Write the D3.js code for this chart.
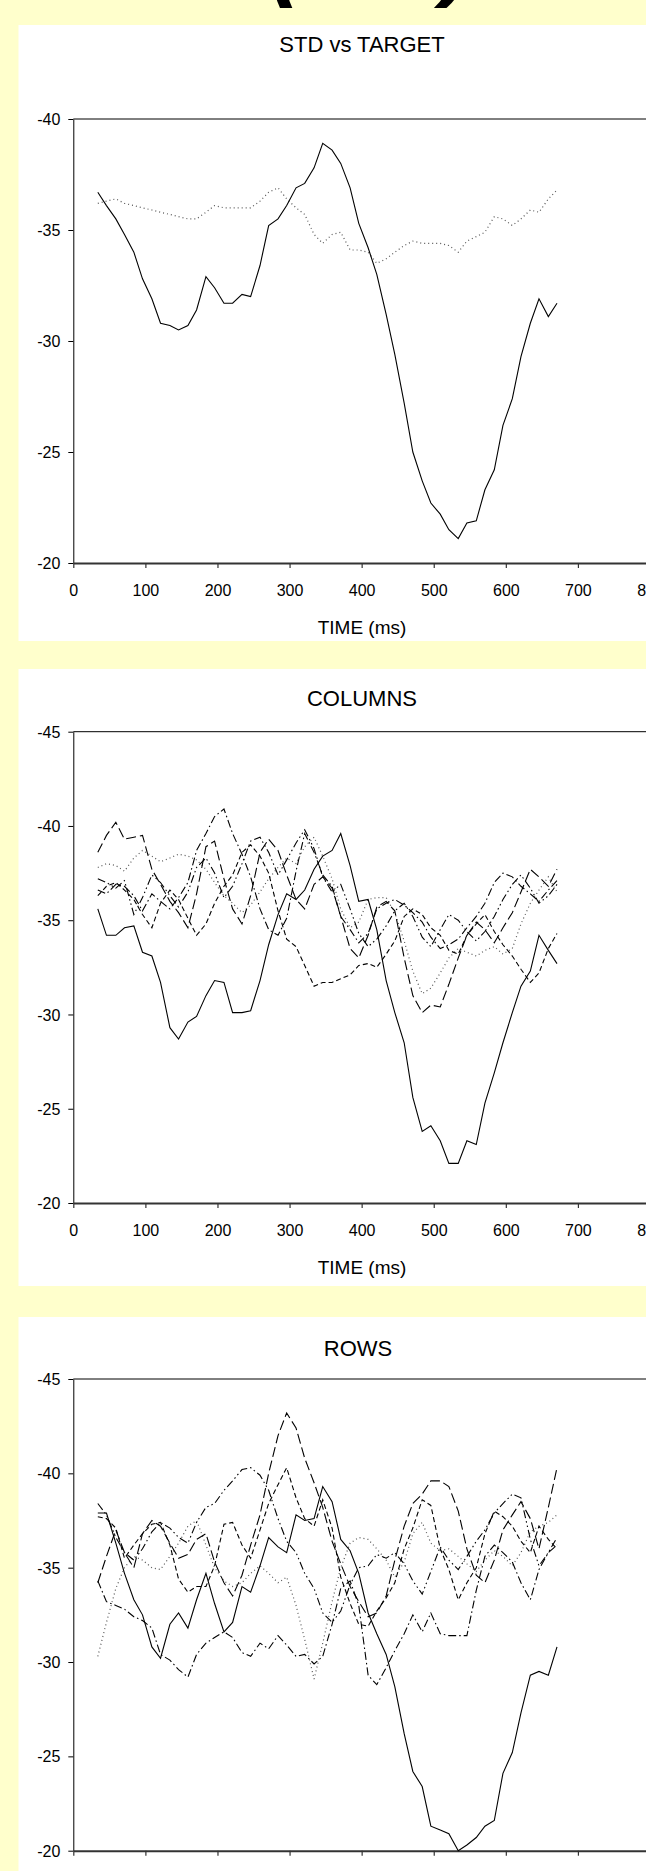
<!DOCTYPE html>
<html>
<head>
<meta charset="utf-8">
<script src="https://cdn.jsdelivr.net/npm/d3@7"></script>
<style>
html,body{margin:0;padding:0;background:#ffffcc;overflow:hidden}
svg{display:block}
</style>
</head>
<body>
<script>
// sample times (ms)
let times = [34,46,59,71,84,96,109,121,134,146,159,171,184,196,209,221,234,246,259,271,284,296,309,321,334,346,359,371,384,396,409,421,434,446,459,471,484,496,509,521,534,546,559,571,584,596,609,621,634,646,659,671];

let xTicks = [0,100,200,300,400,500,600,700,800];
let yTicksStd = [-40,-35,-30,-25,-20];
let yTicksGrid = [-45,-40,-35,-30,-25,-20];

// STD vs TARGET
let stdTarget = [-36.7,-36.1,-35.5,-34.8,-34.0,-32.8,-31.9,-30.8,-30.7,-30.5,-30.7,-31.4,-32.9,-32.4,-31.7,-31.7,-32.1,-32.0,-33.4,-35.2,-35.5,-36.1,-36.9,-37.1,-37.8,-38.9,-38.6,-38.0,-36.9,-35.3,-34.2,-33.0,-31.2,-29.4,-27.2,-25.0,-23.7,-22.7,-22.2,-21.5,-21.1,-21.8,-21.9,-23.3,-24.2,-26.2,-27.4,-29.3,-30.8,-31.9,-31.1,-31.7];
let stdStandard = [-36.2,-36.3,-36.4,-36.2,-36.1,-36.0,-35.9,-35.8,-35.7,-35.6,-35.5,-35.5,-35.8,-36.1,-36.0,-36.0,-36.0,-36.0,-36.3,-36.7,-36.9,-36.4,-36.0,-35.7,-34.8,-34.4,-34.8,-34.9,-34.1,-34.1,-34.0,-33.5,-33.7,-34.0,-34.3,-34.5,-34.4,-34.4,-34.4,-34.3,-34.0,-34.5,-34.7,-34.9,-35.6,-35.5,-35.2,-35.5,-35.9,-35.8,-36.4,-36.8];

// COLUMNS
let colTarget = [-35.6,-34.2,-34.2,-34.6,-34.7,-33.3,-33.1,-31.7,-29.3,-28.7,-29.6,-29.9,-31.0,-31.8,-31.7,-30.1,-30.1,-30.2,-31.8,-33.7,-35.3,-36.4,-36.1,-36.6,-37.7,-38.4,-38.7,-39.6,-37.9,-36.0,-36.1,-34.5,-31.8,-30.1,-28.5,-25.6,-23.8,-24.1,-23.3,-22.1,-22.1,-23.3,-23.1,-25.3,-26.9,-28.5,-30.1,-31.5,-32.3,-34.2,-33.4,-32.7];
let colDot = [-37.8,-38.0,-37.9,-37.6,-38.3,-38.7,-38.4,-38.1,-38.3,-38.5,-38.4,-38.2,-37.7,-37.0,-36.3,-35.9,-35.4,-35.8,-36.5,-37.2,-37.8,-38.3,-38.0,-38.9,-39.4,-38.4,-37.2,-35.6,-34.6,-34.9,-36.1,-36.2,-36.2,-35.4,-33.9,-32.3,-31.1,-31.4,-32.2,-33.0,-33.5,-33.3,-33.1,-33.4,-33.6,-33.2,-33.5,-34.8,-35.9,-36.6,-37.3,-36.5];
let colDashDot = [-36.6,-36.4,-36.9,-36.8,-36.3,-35.5,-36.4,-36.0,-35.6,-36.2,-37.0,-38.7,-39.6,-40.5,-40.9,-39.6,-38.5,-37.3,-35.6,-34.5,-34.2,-35.1,-37.6,-39.6,-38.6,-37.4,-36.8,-35.2,-34.5,-33.8,-34.3,-35.6,-35.9,-36.1,-35.8,-35.4,-34.9,-34.1,-33.5,-33.7,-34.0,-34.6,-35.2,-35.9,-37.0,-37.5,-37.3,-36.8,-36.4,-36.0,-36.6,-37.1];
let colLongDash = [-38.6,-39.5,-40.2,-39.3,-39.4,-39.5,-37.7,-36.9,-36.0,-35.4,-34.6,-36.4,-38.9,-39.2,-37.2,-35.6,-34.8,-36.3,-38.6,-39.3,-38.7,-37.4,-36.1,-35.6,-36.9,-37.3,-36.7,-35.2,-33.5,-33.0,-34.2,-35.7,-36.0,-35.5,-33.0,-31.0,-30.1,-30.5,-30.4,-31.6,-33.0,-34.2,-34.9,-34.5,-33.8,-34.6,-35.4,-36.5,-37.7,-37.3,-36.8,-37.7];
let colDash = [-36.3,-36.8,-37.0,-36.6,-36.1,-35.3,-34.6,-35.9,-36.6,-36.1,-35.1,-34.2,-34.8,-35.9,-36.8,-37.4,-38.6,-39.0,-38.4,-37.5,-35.5,-34.0,-33.6,-32.6,-31.5,-31.7,-31.7,-31.9,-32.1,-32.6,-32.7,-32.5,-33.2,-33.9,-35.2,-35.6,-35.3,-34.6,-34.2,-33.4,-33.2,-34.2,-34.8,-35.3,-34.4,-33.7,-33.1,-32.4,-31.7,-32.2,-33.5,-34.3];
let colDashDotDot = [-37.2,-37.0,-36.7,-37.1,-35.3,-36.2,-37.4,-37.0,-36.3,-35.7,-36.5,-37.8,-38.3,-37.5,-36.2,-36.8,-38.0,-39.2,-39.4,-38.6,-37.4,-38.2,-39.1,-39.8,-38.8,-37.3,-36.5,-36.9,-35.6,-34.3,-33.6,-34.0,-34.7,-35.5,-35.9,-35.2,-34.1,-33.6,-34.5,-35.3,-35.0,-34.4,-33.9,-34.4,-35.2,-36.1,-36.9,-37.4,-36.7,-35.9,-36.3,-36.9];

// ROWS
let rowTarget = [-37.9,-37.9,-36.3,-34.7,-33.3,-32.5,-30.8,-30.2,-32.0,-32.6,-31.8,-33.3,-34.7,-33.1,-31.6,-32.1,-34.0,-33.7,-35.1,-36.6,-36.1,-35.8,-37.8,-37.5,-37.6,-39.3,-38.5,-36.5,-35.9,-34.7,-32.6,-31.5,-30.4,-28.7,-26.2,-24.2,-23.4,-21.3,-21.1,-20.9,-20.0,-20.3,-20.7,-21.3,-21.6,-24.1,-25.2,-27.3,-29.3,-29.5,-29.3,-30.8];
let rowDot = [-30.3,-32.1,-33.9,-35.0,-35.6,-35.4,-35.0,-34.9,-35.6,-36.3,-37.2,-37.5,-36.2,-35.0,-34.3,-34.0,-34.2,-34.7,-35.1,-34.7,-34.2,-34.5,-33.0,-31.2,-29.1,-31.0,-33.2,-35.0,-36.3,-36.6,-36.5,-36.0,-35.4,-34.5,-35.3,-36.8,-37.4,-36.3,-35.9,-36.0,-35.6,-35.2,-34.8,-35.4,-35.9,-35.6,-35.1,-35.8,-36.9,-37.2,-37.4,-37.8];
let rowDashDot = [-34.3,-33.2,-33.0,-32.8,-32.4,-32.2,-31.8,-30.4,-30.1,-29.6,-29.2,-30.4,-31.0,-31.3,-31.6,-31.3,-30.5,-30.3,-31.0,-30.7,-31.4,-30.9,-30.3,-30.4,-29.9,-30.3,-32.0,-33.9,-34.3,-33.0,-29.3,-28.8,-29.7,-30.6,-31.5,-32.5,-31.6,-32.6,-31.5,-31.4,-31.4,-31.4,-33.8,-35.6,-36.2,-35.8,-35.3,-34.2,-33.3,-34.9,-35.8,-36.2];
let rowDash = [-37.7,-37.6,-37.1,-35.5,-36.2,-36.8,-37.3,-37.4,-36.2,-34.4,-33.7,-34.0,-34.0,-35.1,-37.3,-37.4,-36.2,-35.5,-37.0,-38.4,-39.4,-40.3,-38.7,-37.6,-37.2,-38.6,-37.1,-34.5,-33.1,-32.0,-31.9,-32.7,-33.4,-34.2,-36.0,-37.1,-38.6,-38.3,-36.0,-34.9,-33.3,-34.2,-35.0,-36.8,-38.0,-37.7,-37.2,-36.4,-35.8,-37.2,-36.5,-36.0];
let rowDashDotDot = [-38.4,-37.8,-36.6,-35.8,-35.4,-36.0,-36.9,-37.4,-37.1,-36.6,-36.3,-37.4,-38.2,-38.4,-39.1,-39.6,-40.2,-40.3,-39.9,-39.1,-37.6,-36.4,-35.8,-34.7,-33.9,-32.6,-32.1,-32.7,-34.1,-35.0,-35.1,-35.7,-35.5,-35.8,-35.2,-34.3,-33.6,-34.8,-36.1,-35.4,-34.9,-35.6,-36.4,-37.0,-37.9,-38.4,-38.9,-38.7,-36.5,-35.1,-35.8,-36.6];
let rowLongDash = [-34.2,-35.6,-37.0,-35.8,-35.0,-36.8,-37.5,-37.2,-36.3,-35.5,-35.7,-36.5,-36.8,-35.3,-34.2,-33.5,-34.6,-36.2,-37.8,-40.0,-42.0,-43.2,-42.4,-40.8,-39.5,-38.2,-36.4,-35.2,-34.0,-33.2,-32.4,-32.6,-33.5,-35.4,-37.2,-38.4,-38.9,-39.6,-39.6,-39.3,-38.0,-36.0,-34.6,-34.2,-35.4,-37.0,-37.8,-38.5,-37.6,-36.0,-38.2,-40.3];

let W = 646, H = 1871;
let font = "'Liberation Sans', Arial, sans-serif";

// line patterns, Excel style
let dashes = {
  solid: null,
  dot: "1,3",
  dash: "5,3",
  longDash: "10,4",
  dashDot: "8,3,1.5,3",
  dashDotDot: "8,3,1.5,3,1.5,3"
};

let panels = [
  {title:"STD vs TARGET", titleX:362, top:25, bottom:641, titleY:52, yTop:119, yBot:563, domain:[-40,-20], ticks:yTicksStd,
   series:[[stdStandard,"dot"],[stdTarget,"solid"]]},
  {title:"COLUMNS", titleX:362, top:669, bottom:1286, titleY:706, yTop:731.7, yBot:1203, domain:[-45,-20], ticks:yTicksGrid,
   series:[[colDot,"dot"],[colDashDot,"dashDot"],[colLongDash,"longDash"],[colDash,"dash"],[colDashDotDot,"dashDotDot"],[colTarget,"solid"]]},
  {title:"ROWS", titleX:358, top:1317, bottom:1900, titleY:1356, yTop:1379, yBot:1850.7, domain:[-45,-20], ticks:yTicksGrid,
   series:[[rowDot,"dot"],[rowDashDot,"dashDot"],[rowDash,"dash"],[rowDashDotDot,"dashDotDot"],[rowLongDash,"longDash"],[rowTarget,"solid"]]}
];

let svg = d3.select("body")
            .append("svg")
            .attr("width", W)
            .attr("height", H);

svg.append("rect")
   .attr("width", W).attr("height", H)
   .attr("fill", "#ffffcc");

// big heading, only its bottom edge shows
svg.append("text")
   .attr("x", 270).attr("y", -11)
   .attr("font-family", font).attr("font-weight", "bold").attr("font-style", "italic")
   .attr("font-size", 92)
   .text("(");
svg.append("text")
   .attr("x", 442).attr("y", -11)
   .attr("font-family", font).attr("font-weight", "bold").attr("font-style", "italic")
   .attr("font-size", 92)
   .text(")");

let x = d3.scaleLinear().domain([0, 800]).range([73.3, 650]);

panels.forEach(function(p){
  let g = svg.append("g");

  g.append("rect")
   .attr("x", 18.5).attr("y", p.top)
   .attr("width", W).attr("height", p.bottom - p.top)
   .attr("fill", "#ffffff");

  g.append("text")
   .attr("x", p.titleX).attr("y", p.titleY)
   .attr("text-anchor", "middle")
   .attr("font-family", font).attr("font-size", 22)
   .text(p.title);

  let y = d3.scaleLinear().domain(p.domain).range([p.yTop, p.yBot]);

  // top border of plot area
  g.append("line")
   .attr("x1", x(0)).attr("x2", W)
   .attr("y1", p.yTop).attr("y2", p.yTop)
   .attr("stroke", "#000").attr("stroke-width", 1);

  let yAxis = g.append("g")
   .attr("transform", "translate(" + x(0) + ",0)")
   .call(d3.axisLeft(y).tickValues(p.ticks).tickFormat(d => String(d)).tickSize(5).tickSizeOuter(0));
  yAxis.select(".domain").attr("stroke", "#000").attr("stroke-width", 1);
  yAxis.selectAll(".tick line").attr("stroke", "#000");
  yAxis.selectAll("text")
   .attr("x", -13).attr("dy", "0.35em")
   .attr("font-family", font).attr("font-size", 16).attr("fill", "#000");

  let xAxis = g.append("g")
   .attr("transform", "translate(0," + p.yBot + ")")
   .call(d3.axisBottom(x).tickValues(xTicks).tickFormat(d => String(d)).tickSize(5).tickSizeOuter(0));
  xAxis.select(".domain").attr("stroke", "#333").attr("stroke-width", 2);
  xAxis.selectAll(".tick line").attr("stroke", "#333").attr("stroke-width", 1.2);
  xAxis.selectAll("text")
   .attr("y", 33).attr("dy", 0)
   .attr("font-family", font).attr("font-size", 16).attr("fill", "#000");

  g.append("text")
   .attr("x", 362).attr("y", p.yBot + 71)
   .attr("text-anchor", "middle")
   .attr("font-family", font).attr("font-size", 19)
   .text("TIME (ms)");

  let line = d3.line()
     .x((d,i) => x(times[i]))
     .y(d => y(d));

  g.selectAll("path.series")
   .data(p.series)
   .enter()
   .append("path")
   .attr("class", "series")
   .attr("d", d => line(d[0]))
   .attr("fill", "none")
   .attr("stroke", d => d[1] == "dot" ? "#555" : "#000")
   .attr("stroke-width", d => d[1] == "dot" ? 1.2 : 1.1)
   .attr("stroke-dasharray", d => dashes[d[1]]);
});
</script>
</body>
</html>
